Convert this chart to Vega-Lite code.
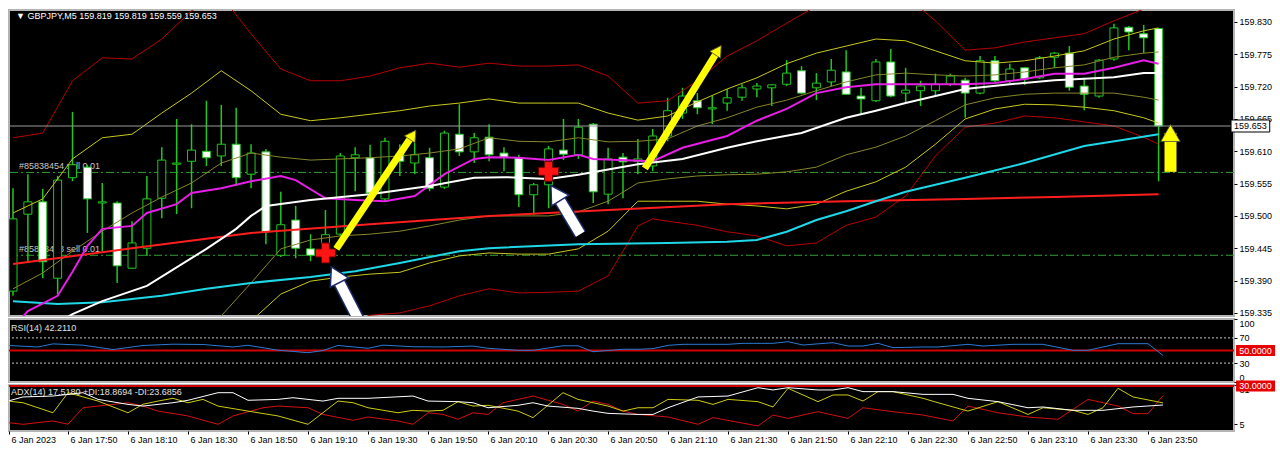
{
"$schema":"https://vega.github.io/schema/vega-lite/v6.json",
"background":"#ffffff",
"padding":{"left":7,"top":9,"right":0,"bottom":0},
"bounds":"flush",
"spacing":3,
"config":{"view":{"fill":"#000000","stroke":"#b4b4b4","strokeWidth":2},"text":{"font":"Liberation Sans"},"axis":{"labelFont":"Liberation Sans","labelOverlap":false}},
"datasets":{
"bars":[
{"i":0,"o":159.372,"h":159.547,"l":159.364,"c":159.495},
{"i":1,"o":159.503,"h":159.571,"l":159.423,"c":159.524},
{"i":2,"o":159.524,"h":159.546,"l":159.394,"c":159.422},
{"i":3,"o":159.394,"h":159.568,"l":159.367,"c":159.561},
{"i":4,"o":159.565,"h":159.677,"l":159.559,"c":159.587},
{"i":5,"o":159.583,"h":159.587,"l":159.471,"c":159.529},
{"i":6,"o":159.522,"h":159.556,"l":159.440,"c":159.524},
{"i":7,"o":159.522,"h":159.525,"l":159.386,"c":159.415},
{"i":8,"o":159.411,"h":159.491,"l":159.410,"c":159.454},
{"i":9,"o":159.445,"h":159.568,"l":159.432,"c":159.529},
{"i":10,"o":159.530,"h":159.617,"l":159.496,"c":159.595},
{"i":11,"o":159.588,"h":159.665,"l":159.503,"c":159.590},
{"i":12,"o":159.593,"h":159.656,"l":159.513,"c":159.612},
{"i":13,"o":159.610,"h":159.696,"l":159.585,"c":159.599},
{"i":14,"o":159.602,"h":159.689,"l":159.585,"c":159.622},
{"i":15,"o":159.622,"h":159.684,"l":159.551,"c":159.565},
{"i":16,"o":159.571,"h":159.622,"l":159.547,"c":159.607},
{"i":17,"o":159.609,"h":159.614,"l":159.452,"c":159.473},
{"i":18,"o":159.433,"h":159.541,"l":159.430,"c":159.485},
{"i":19,"o":159.493,"h":159.517,"l":159.428,"c":159.445},
{"i":20,"o":159.444,"h":159.469,"l":159.423,"c":159.433},
{"i":21,"o":159.452,"h":159.510,"l":159.444,"c":159.468},
{"i":22,"o":159.469,"h":159.607,"l":159.466,"c":159.602},
{"i":23,"o":159.599,"h":159.617,"l":159.542,"c":159.604},
{"i":24,"o":159.599,"h":159.621,"l":159.525,"c":159.539},
{"i":25,"o":159.529,"h":159.633,"l":159.525,"c":159.627},
{"i":26,"o":159.605,"h":159.622,"l":159.568,"c":159.593},
{"i":27,"o":159.590,"h":159.624,"l":159.571,"c":159.604},
{"i":28,"o":159.599,"h":159.616,"l":159.542,"c":159.547},
{"i":29,"o":159.549,"h":159.645,"l":159.546,"c":159.641},
{"i":30,"o":159.639,"h":159.690,"l":159.602,"c":159.609},
{"i":31,"o":159.609,"h":159.641,"l":159.590,"c":159.633},
{"i":32,"o":159.634,"h":159.656,"l":159.593,"c":159.604},
{"i":33,"o":159.607,"h":159.617,"l":159.576,"c":159.600},
{"i":34,"o":159.599,"h":159.604,"l":159.515,"c":159.536},
{"i":35,"o":159.536,"h":159.556,"l":159.502,"c":159.553},
{"i":36,"o":159.553,"h":159.619,"l":159.513,"c":159.614},
{"i":37,"o":159.612,"h":159.665,"l":159.595,"c":159.605},
{"i":38,"o":159.604,"h":159.665,"l":159.597,"c":159.651},
{"i":39,"o":159.656,"h":159.658,"l":159.522,"c":159.541},
{"i":40,"o":159.537,"h":159.616,"l":159.520,"c":159.597},
{"i":41,"o":159.600,"h":159.607,"l":159.530,"c":159.592},
{"i":42,"o":159.593,"h":159.631,"l":159.571,"c":159.597},
{"i":43,"o":159.585,"h":159.648,"l":159.576,"c":159.636},
{"i":44,"o":159.636,"h":159.701,"l":159.627,"c":159.679},
{"i":45,"o":159.675,"h":159.718,"l":159.665,"c":159.704},
{"i":46,"o":159.696,"h":159.709,"l":159.673,"c":159.684},
{"i":47,"o":159.682,"h":159.704,"l":159.656,"c":159.684},
{"i":48,"o":159.692,"h":159.716,"l":159.679,"c":159.701},
{"i":49,"o":159.702,"h":159.724,"l":159.696,"c":159.718},
{"i":50,"o":159.716,"h":159.726,"l":159.702,"c":159.721},
{"i":51,"o":159.718,"h":159.724,"l":159.687,"c":159.723},
{"i":52,"o":159.724,"h":159.765,"l":159.721,"c":159.743},
{"i":53,"o":159.747,"h":159.755,"l":159.707,"c":159.709},
{"i":54,"o":159.718,"h":159.743,"l":159.697,"c":159.726},
{"i":55,"o":159.728,"h":159.767,"l":159.721,"c":159.748},
{"i":56,"o":159.745,"h":159.782,"l":159.706,"c":159.707},
{"i":57,"o":159.704,"h":159.718,"l":159.673,"c":159.699},
{"i":58,"o":159.696,"h":159.767,"l":159.694,"c":159.762},
{"i":59,"o":159.762,"h":159.784,"l":159.702,"c":159.704},
{"i":60,"o":159.709,"h":159.752,"l":159.692,"c":159.714},
{"i":61,"o":159.713,"h":159.730,"l":159.687,"c":159.721},
{"i":62,"o":159.713,"h":159.742,"l":159.704,"c":159.724},
{"i":63,"o":159.724,"h":159.742,"l":159.721,"c":159.738},
{"i":64,"o":159.731,"h":159.735,"l":159.667,"c":159.709},
{"i":65,"o":159.709,"h":159.772,"l":159.707,"c":159.764},
{"i":66,"o":159.764,"h":159.772,"l":159.728,"c":159.730},
{"i":67,"o":159.730,"h":159.759,"l":159.726,"c":159.750},
{"i":68,"o":159.752,"h":159.753,"l":159.723,"c":159.733},
{"i":69,"o":159.735,"h":159.772,"l":159.733,"c":159.769},
{"i":70,"o":159.770,"h":159.779,"l":159.752,"c":159.777},
{"i":71,"o":159.777,"h":159.789,"l":159.713,"c":159.719},
{"i":72,"o":159.721,"h":159.735,"l":159.680,"c":159.707},
{"i":73,"o":159.704,"h":159.767,"l":159.701,"c":159.765},
{"i":74,"o":159.767,"h":159.827,"l":159.764,"c":159.820},
{"i":75,"o":159.821,"h":159.823,"l":159.782,"c":159.813},
{"i":76,"o":159.810,"h":159.825,"l":159.777,"c":159.803},
{"i":77,"o":159.819,"h":159.819,"l":159.559,"c":159.653}
],
"bands":[
{"s":"RU","i":0,"p":159.633},{"s":"RU","i":2,"p":159.641},{"s":"RU","i":4,"p":159.730},{"s":"RU","i":6,"p":159.769},{"s":"RU","i":8,"p":159.767},{"s":"RU","i":10,"p":159.801},{"s":"RU","i":12,"p":159.849},{"s":"RU","i":14,"p":159.874},{"s":"RU","i":16,"p":159.810},{"s":"RU","i":18,"p":159.750},{"s":"RU","i":20,"p":159.730},{"s":"RU","i":22,"p":159.730},{"s":"RU","i":24,"p":159.738},{"s":"RU","i":26,"p":159.752},{"s":"RU","i":28,"p":159.760},{"s":"RU","i":30,"p":159.753},{"s":"RU","i":32,"p":159.760},{"s":"RU","i":34,"p":159.755},{"s":"RU","i":36,"p":159.755},{"s":"RU","i":38,"p":159.757},{"s":"RU","i":40,"p":159.738},{"s":"RU","i":42,"p":159.692},{"s":"RU","i":44,"p":159.696},{"s":"RU","i":46,"p":159.730},{"s":"RU","i":48,"p":159.772},{"s":"RU","i":50,"p":159.798},{"s":"RU","i":52,"p":159.828},{"s":"RU","i":54,"p":159.857},{"s":"RU","i":56,"p":159.874},{"s":"RU","i":58,"p":159.879},{"s":"RU","i":60,"p":159.874},{"s":"RU","i":62,"p":159.832},{"s":"RU","i":64,"p":159.782},{"s":"RU","i":66,"p":159.786},{"s":"RU","i":68,"p":159.796},{"s":"RU","i":70,"p":159.803},{"s":"RU","i":72,"p":159.810},{"s":"RU","i":74,"p":159.832},{"s":"RU","i":76,"p":159.852},{"s":"RU","i":77,"p":159.861},
{"s":"YU","i":0,"p":159.505},{"s":"YU","i":2,"p":159.529},{"s":"YU","i":4,"p":159.597},{"s":"YU","i":6,"p":159.633},{"s":"YU","i":8,"p":159.639},{"s":"YU","i":10,"p":159.675},{"s":"YU","i":12,"p":159.709},{"s":"YU","i":14,"p":159.747},{"s":"YU","i":16,"p":159.713},{"s":"YU","i":18,"p":159.673},{"s":"YU","i":20,"p":159.662},{"s":"YU","i":22,"p":159.667},{"s":"YU","i":24,"p":159.673},{"s":"YU","i":26,"p":159.679},{"s":"YU","i":28,"p":159.687},{"s":"YU","i":30,"p":159.692},{"s":"YU","i":32,"p":159.699},{"s":"YU","i":34,"p":159.692},{"s":"YU","i":36,"p":159.692},{"s":"YU","i":38,"p":159.692},{"s":"YU","i":40,"p":159.675},{"s":"YU","i":42,"p":159.663},{"s":"YU","i":44,"p":159.670},{"s":"YU","i":46,"p":159.694},{"s":"YU","i":48,"p":159.716},{"s":"YU","i":50,"p":159.735},{"s":"YU","i":52,"p":159.759},{"s":"YU","i":54,"p":159.777},{"s":"YU","i":56,"p":159.789},{"s":"YU","i":58,"p":159.801},{"s":"YU","i":60,"p":159.798},{"s":"YU","i":62,"p":159.781},{"s":"YU","i":64,"p":159.764},{"s":"YU","i":66,"p":159.760},{"s":"YU","i":68,"p":159.764},{"s":"YU","i":70,"p":159.772},{"s":"YU","i":72,"p":159.781},{"s":"YU","i":74,"p":159.801},{"s":"YU","i":76,"p":159.815},{"s":"YU","i":77,"p":159.820},
{"s":"OU","i":0,"p":159.376},{"s":"OU","i":2,"p":159.403},{"s":"OU","i":4,"p":159.440},{"s":"OU","i":6,"p":159.474},{"s":"OU","i":8,"p":159.505},{"s":"OU","i":10,"p":159.532},{"s":"OU","i":12,"p":159.556},{"s":"OU","i":14,"p":159.590},{"s":"OU","i":16,"p":159.607},{"s":"OU","i":18,"p":159.600},{"s":"OU","i":20,"p":159.595},{"s":"OU","i":22,"p":159.597},{"s":"OU","i":24,"p":159.599},{"s":"OU","i":26,"p":159.602},{"s":"OU","i":28,"p":159.607},{"s":"OU","i":30,"p":159.614},{"s":"OU","i":32,"p":159.633},{"s":"OU","i":34,"p":159.627},{"s":"OU","i":36,"p":159.626},{"s":"OU","i":38,"p":159.633},{"s":"OU","i":40,"p":159.626},{"s":"OU","i":42,"p":159.627},{"s":"OU","i":44,"p":159.631},{"s":"OU","i":46,"p":159.653},{"s":"OU","i":48,"p":159.667},{"s":"OU","i":50,"p":159.685},{"s":"OU","i":52,"p":159.697},{"s":"OU","i":54,"p":159.713},{"s":"OU","i":56,"p":159.728},{"s":"OU","i":58,"p":159.740},{"s":"OU","i":60,"p":159.743},{"s":"OU","i":62,"p":159.740},{"s":"OU","i":64,"p":159.738},{"s":"OU","i":66,"p":159.740},{"s":"OU","i":68,"p":159.745},{"s":"OU","i":70,"p":159.752},{"s":"OU","i":72,"p":159.757},{"s":"OU","i":74,"p":159.770},{"s":"OU","i":76,"p":159.777},{"s":"OU","i":77,"p":159.779},
{"s":"OL","i":10,"p":159.230},{"s":"OL","i":12,"p":159.279},{"s":"OL","i":14,"p":159.330},{"s":"OL","i":16,"p":159.386},{"s":"OL","i":18,"p":159.444},{"s":"OL","i":20,"p":159.459},{"s":"OL","i":22,"p":159.466},{"s":"OL","i":24,"p":159.469},{"s":"OL","i":26,"p":159.474},{"s":"OL","i":28,"p":159.483},{"s":"OL","i":30,"p":159.493},{"s":"OL","i":32,"p":159.500},{"s":"OL","i":34,"p":159.500},{"s":"OL","i":36,"p":159.500},{"s":"OL","i":38,"p":159.507},{"s":"OL","i":40,"p":159.525},{"s":"OL","i":42,"p":159.556},{"s":"OL","i":44,"p":159.563},{"s":"OL","i":46,"p":159.568},{"s":"OL","i":48,"p":159.570},{"s":"OL","i":50,"p":159.571},{"s":"OL","i":52,"p":159.575},{"s":"OL","i":54,"p":159.583},{"s":"OL","i":56,"p":159.604},{"s":"OL","i":58,"p":159.617},{"s":"OL","i":60,"p":159.636},{"s":"OL","i":62,"p":159.662},{"s":"OL","i":64,"p":159.689},{"s":"OL","i":66,"p":159.701},{"s":"OL","i":68,"p":159.707},{"s":"OL","i":70,"p":159.709},{"s":"OL","i":72,"p":159.709},{"s":"OL","i":74,"p":159.709},{"s":"OL","i":76,"p":159.702},{"s":"OL","i":77,"p":159.697},
{"s":"YL","i":10,"p":159.219},{"s":"YL","i":12,"p":159.253},{"s":"YL","i":14,"p":159.287},{"s":"YL","i":16,"p":159.321},{"s":"YL","i":18,"p":159.367},{"s":"YL","i":20,"p":159.389},{"s":"YL","i":22,"p":159.396},{"s":"YL","i":24,"p":159.401},{"s":"YL","i":26,"p":159.404},{"s":"YL","i":28,"p":159.420},{"s":"YL","i":30,"p":159.432},{"s":"YL","i":32,"p":159.437},{"s":"YL","i":34,"p":159.435},{"s":"YL","i":36,"p":159.435},{"s":"YL","i":38,"p":159.444},{"s":"YL","i":40,"p":159.474},{"s":"YL","i":42,"p":159.525},{"s":"YL","i":44,"p":159.525},{"s":"YL","i":46,"p":159.525},{"s":"YL","i":48,"p":159.520},{"s":"YL","i":50,"p":159.517},{"s":"YL","i":52,"p":159.512},{"s":"YL","i":54,"p":159.520},{"s":"YL","i":56,"p":159.542},{"s":"YL","i":58,"p":159.558},{"s":"YL","i":60,"p":159.583},{"s":"YL","i":62,"p":159.622},{"s":"YL","i":64,"p":159.665},{"s":"YL","i":66,"p":159.682},{"s":"YL","i":68,"p":159.690},{"s":"YL","i":70,"p":159.689},{"s":"YL","i":72,"p":159.685},{"s":"YL","i":74,"p":159.679},{"s":"YL","i":76,"p":159.667},{"s":"YL","i":77,"p":159.658},
{"s":"RL","i":16,"p":159.253},{"s":"RL","i":20,"p":159.304},{"s":"RL","i":22,"p":159.313},{"s":"RL","i":24,"p":159.331},{"s":"RL","i":26,"p":159.335},{"s":"RL","i":28,"p":159.347},{"s":"RL","i":30,"p":159.364},{"s":"RL","i":32,"p":159.376},{"s":"RL","i":34,"p":159.369},{"s":"RL","i":36,"p":159.370},{"s":"RL","i":38,"p":159.372},{"s":"RL","i":40,"p":159.398},{"s":"RL","i":41,"p":159.440},{"s":"RL","i":42,"p":159.483},{"s":"RL","i":43,"p":159.495},{"s":"RL","i":44,"p":159.491},{"s":"RL","i":46,"p":159.484},{"s":"RL","i":48,"p":159.473},{"s":"RL","i":50,"p":159.466},{"s":"RL","i":52,"p":159.449},{"s":"RL","i":54,"p":159.454},{"s":"RL","i":56,"p":159.484},{"s":"RL","i":58,"p":159.498},{"s":"RL","i":60,"p":159.534},{"s":"RL","i":62,"p":159.602},{"s":"RL","i":64,"p":159.651},{"s":"RL","i":66,"p":159.658},{"s":"RL","i":68,"p":159.670},{"s":"RL","i":70,"p":159.667},{"s":"RL","i":72,"p":159.660},{"s":"RL","i":74,"p":159.653},{"s":"RL","i":76,"p":159.634},{"s":"RL","i":77,"p":159.622}
],
"ma":[
{"s":"slow","i":0,"p":159.418},{"s":"slow","i":8,"p":159.445},{"s":"slow","i":16,"p":159.471},{"s":"slow","i":24,"p":159.486},{"s":"slow","i":32,"p":159.500},{"s":"slow","i":40,"p":159.510},{"s":"slow","i":48,"p":159.520},{"s":"slow","i":56,"p":159.525},{"s":"slow","i":64,"p":159.529},{"s":"slow","i":70,"p":159.532},{"s":"slow","i":77,"p":159.537},
{"s":"cyan","i":0,"p":159.355},{"s":"cyan","i":3,"p":159.350},{"s":"cyan","i":6,"p":159.353},{"s":"cyan","i":10,"p":159.364},{"s":"cyan","i":13,"p":159.376},{"s":"cyan","i":16,"p":159.386},{"s":"cyan","i":20,"p":159.396},{"s":"cyan","i":23,"p":159.406},{"s":"cyan","i":26,"p":159.420},{"s":"cyan","i":30,"p":159.440},{"s":"cyan","i":32,"p":159.445},{"s":"cyan","i":38,"p":159.452},{"s":"cyan","i":44,"p":159.454},{"s":"cyan","i":48,"p":159.456},{"s":"cyan","i":50,"p":159.459},{"s":"cyan","i":52,"p":159.473},{"s":"cyan","i":54,"p":159.493},{"s":"cyan","i":56,"p":159.508},{"s":"cyan","i":58,"p":159.525},{"s":"cyan","i":60,"p":159.541},{"s":"cyan","i":64,"p":159.565},{"s":"cyan","i":68,"p":159.590},{"s":"cyan","i":72,"p":159.619},{"s":"cyan","i":75,"p":159.631},{"s":"cyan","i":77,"p":159.639},
{"s":"mag","i":0,"p":159.310},{"s":"mag","i":1,"p":159.338},{"s":"mag","i":3,"p":159.364},{"s":"mag","i":4,"p":159.405},{"s":"mag","i":5,"p":159.449},{"s":"mag","i":6,"p":159.478},{"s":"mag","i":8,"p":159.483},{"s":"mag","i":9,"p":159.505},{"s":"mag","i":11,"p":159.520},{"s":"mag","i":12,"p":159.539},{"s":"mag","i":14,"p":159.547},{"s":"mag","i":16,"p":159.559},{"s":"mag","i":18,"p":159.568},{"s":"mag","i":19,"p":159.561},{"s":"mag","i":21,"p":159.530},{"s":"mag","i":23,"p":159.527},{"s":"mag","i":25,"p":159.525},{"s":"mag","i":27,"p":159.534},{"s":"mag","i":29,"p":159.571},{"s":"mag","i":31,"p":159.597},{"s":"mag","i":32,"p":159.600},{"s":"mag","i":34,"p":159.599},{"s":"mag","i":36,"p":159.595},{"s":"mag","i":38,"p":159.604},{"s":"mag","i":39,"p":159.597},{"s":"mag","i":43,"p":159.593},{"s":"mag","i":45,"p":159.616},{"s":"mag","i":48,"p":159.636},{"s":"mag","i":50,"p":159.662},{"s":"mag","i":52,"p":159.682},{"s":"mag","i":54,"p":159.709},{"s":"mag","i":56,"p":159.719},{"s":"mag","i":58,"p":159.724},{"s":"mag","i":64,"p":159.724},{"s":"mag","i":66,"p":159.726},{"s":"mag","i":68,"p":159.733},{"s":"mag","i":70,"p":159.742},{"s":"mag","i":72,"p":159.742},{"s":"mag","i":74,"p":159.752},{"s":"mag","i":76,"p":159.765},{"s":"mag","i":77,"p":159.759},
{"s":"white","i":3,"p":159.318},{"s":"white","i":4,"p":159.333},{"s":"white","i":6,"p":159.355},{"s":"white","i":9,"p":159.381},{"s":"white","i":13,"p":159.444},{"s":"white","i":15,"p":159.478},{"s":"white","i":16,"p":159.500},{"s":"white","i":17,"p":159.517},{"s":"white","i":20,"p":159.527},{"s":"white","i":24,"p":159.537},{"s":"white","i":28,"p":159.551},{"s":"white","i":31,"p":159.565},{"s":"white","i":33,"p":159.566},{"s":"white","i":36,"p":159.563},{"s":"white","i":38,"p":159.570},{"s":"white","i":42,"p":159.588},{"s":"white","i":45,"p":159.597},{"s":"white","i":48,"p":159.616},{"s":"white","i":50,"p":159.627},{"s":"white","i":53,"p":159.641},{"s":"white","i":56,"p":159.667},{"s":"white","i":58,"p":159.679},{"s":"white","i":60,"p":159.692},{"s":"white","i":64,"p":159.716},{"s":"white","i":67,"p":159.724},{"s":"white","i":70,"p":159.731},{"s":"white","i":74,"p":159.736},{"s":"white","i":76,"p":159.743},{"s":"white","i":77,"p":159.743}
],
"orders":[{"p":159.574,"label":"#85838454 sell 0.01"},{"p":159.433,"label":"#85838418 sell 0.01"}],
"quote":[{"p":159.653,"label":"159.653"}],
"entries":[{"i":21,"p":159.437},{"i":36,"p":159.576}],
"trend_arrows":[{"i":21.73,"p":159.444,"i2":26.87,"p2":159.638,"angle":34},{"i":42.47,"p":159.581,"i2":47.4,"p2":159.782,"angle":33}],
"up_arrow":[{"i":77.8,"p":159.575,"i2":77.8,"p2":159.641,"angle":0}],
"pointer_arrows":[{"i":23.27,"p":159.321,"i2":21.67,"p2":159.400,"angle":-27},{"i":38.13,"p":159.469,"i2":36.47,"p2":159.539,"angle":-32}],
"rsi":[{"i":0,"v":58},{"i":2,"v":55.6},{"i":3,"v":60.5},{"i":5,"v":58.5},{"i":7,"v":51.5},{"i":9,"v":58},{"i":11,"v":60},{"i":13,"v":59.5},{"i":15,"v":55.6},{"i":16,"v":58.3},{"i":18,"v":50.5},{"i":20,"v":46.5},{"i":21,"v":50},{"i":22,"v":58},{"i":24,"v":53.5},{"i":25,"v":58.5},{"i":27,"v":56},{"i":29,"v":55.6},{"i":31,"v":57},{"i":32,"v":53.5},{"i":34,"v":50.3},{"i":35,"v":50.3},{"i":37,"v":57.5},{"i":38,"v":57.5},{"i":39,"v":48},{"i":41,"v":52},{"i":42,"v":51.9},{"i":43,"v":53},{"i":44,"v":58.2},{"i":45,"v":59.8},{"i":48,"v":59.8},{"i":49,"v":61.4},{"i":51,"v":61.4},{"i":52,"v":64},{"i":53,"v":58.7},{"i":55,"v":62.4},{"i":56,"v":57.1},{"i":57,"v":57.1},{"i":58,"v":61.4},{"i":59,"v":54.5},{"i":61,"v":55.6},{"i":62,"v":55.6},{"i":64,"v":59.8},{"i":65,"v":57.1},{"i":67,"v":59.8},{"i":69,"v":59.8},{"i":71,"v":50.3},{"i":72,"v":50.3},{"i":73,"v":55.6},{"i":74,"v":60.8},{"i":76,"v":60.8},{"i":77,"v":42.2}],
"rsi_levels":[{"v":70},{"v":30}],
"rsi_mid":[{"v":50,"label":"50.0000"}],
"adx_level":[{"v":30,"label":"30.0000"}],
"adx":[
{"s":"mdi","i":0,"v":5.9},{"s":"mdi","i":1,"v":4.8},{"s":"mdi","i":3,"v":7.0},{"s":"mdi","i":4,"v":4.8},{"s":"mdi","i":5,"v":15.7},{"s":"mdi","i":6,"v":16.8},{"s":"mdi","i":8,"v":19.0},{"s":"mdi","i":9,"v":16.8},{"s":"mdi","i":10,"v":13.5},{"s":"mdi","i":12,"v":10.3},{"s":"mdi","i":14,"v":4.8},{"s":"mdi","i":15,"v":10.3},{"s":"mdi","i":17,"v":15.7},{"s":"mdi","i":18,"v":16.8},{"s":"mdi","i":20,"v":15.7},{"s":"mdi","i":21,"v":11.3},{"s":"mdi","i":23,"v":7.4},{"s":"mdi","i":24,"v":9.6},{"s":"mdi","i":26,"v":7.0},{"s":"mdi","i":27,"v":4.8},{"s":"mdi","i":28,"v":12.4},{"s":"mdi","i":29,"v":11.3},{"s":"mdi","i":30,"v":8.1},{"s":"mdi","i":31,"v":12.4},{"s":"mdi","i":32,"v":11.3},{"s":"mdi","i":33,"v":19.0},{"s":"mdi","i":35,"v":23.4},{"s":"mdi","i":37,"v":17.9},{"s":"mdi","i":38,"v":13.5},{"s":"mdi","i":39,"v":20.1},{"s":"mdi","i":40,"v":17.9},{"s":"mdi","i":41,"v":13.5},{"s":"mdi","i":42,"v":11.3},{"s":"mdi","i":44,"v":9.6},{"s":"mdi","i":46,"v":4.8},{"s":"mdi","i":47,"v":9.2},{"s":"mdi","i":50,"v":3.7},{"s":"mdi","i":51,"v":10.9},{"s":"mdi","i":52,"v":8.7},{"s":"mdi","i":54,"v":13.1},{"s":"mdi","i":56,"v":8.7},{"s":"mdi","i":57,"v":15.7},{"s":"mdi","i":59,"v":13.1},{"s":"mdi","i":61,"v":10.9},{"s":"mdi","i":63,"v":7.0},{"s":"mdi","i":64,"v":16.8},{"s":"mdi","i":66,"v":12.4},{"s":"mdi","i":68,"v":9.6},{"s":"mdi","i":70,"v":8.1},{"s":"mdi","i":72,"v":21.2},{"s":"mdi","i":74,"v":16.8},{"s":"mdi","i":75,"v":11.8},{"s":"mdi","i":76,"v":11.8},{"s":"mdi","i":77,"v":23.7},
{"s":"pdi","i":0,"v":20.1},{"s":"pdi","i":1,"v":19.0},{"s":"pdi","i":3,"v":12.4},{"s":"pdi","i":4,"v":25.6},{"s":"pdi","i":6,"v":20.1},{"s":"pdi","i":8,"v":12.4},{"s":"pdi","i":9,"v":18.0},{"s":"pdi","i":10,"v":20.1},{"s":"pdi","i":11,"v":21.9},{"s":"pdi","i":12,"v":19.0},{"s":"pdi","i":13,"v":21.2},{"s":"pdi","i":14,"v":16.8},{"s":"pdi","i":16,"v":13.5},{"s":"pdi","i":18,"v":10.3},{"s":"pdi","i":20,"v":4.8},{"s":"pdi","i":22,"v":20.1},{"s":"pdi","i":23,"v":19.0},{"s":"pdi","i":24,"v":15.7},{"s":"pdi","i":26,"v":12.4},{"s":"pdi","i":27,"v":14.0},{"s":"pdi","i":28,"v":13.5},{"s":"pdi","i":29,"v":14.0},{"s":"pdi","i":30,"v":19.7},{"s":"pdi","i":31,"v":16.8},{"s":"pdi","i":32,"v":17.3},{"s":"pdi","i":34,"v":13.5},{"s":"pdi","i":35,"v":9.2},{"s":"pdi","i":37,"v":25.6},{"s":"pdi","i":38,"v":21.2},{"s":"pdi","i":40,"v":16.8},{"s":"pdi","i":41,"v":13.5},{"s":"pdi","i":42,"v":15.7},{"s":"pdi","i":43,"v":15.7},{"s":"pdi","i":44,"v":21.2},{"s":"pdi","i":46,"v":20.6},{"s":"pdi","i":47,"v":17.9},{"s":"pdi","i":48,"v":21.2},{"s":"pdi","i":50,"v":19.7},{"s":"pdi","i":51,"v":16.2},{"s":"pdi","i":52,"v":28.5},{"s":"pdi","i":54,"v":19.7},{"s":"pdi","i":55,"v":24.1},{"s":"pdi","i":56,"v":24.1},{"s":"pdi","i":57,"v":20.1},{"s":"pdi","i":58,"v":26.3},{"s":"pdi","i":59,"v":26.3},{"s":"pdi","i":61,"v":21.9},{"s":"pdi","i":62,"v":19.0},{"s":"pdi","i":64,"v":13.5},{"s":"pdi","i":66,"v":19.7},{"s":"pdi","i":68,"v":11.3},{"s":"pdi","i":69,"v":15.7},{"s":"pdi","i":71,"v":14.0},{"s":"pdi","i":72,"v":11.3},{"s":"pdi","i":73,"v":15.7},{"s":"pdi","i":74,"v":28.5},{"s":"pdi","i":75,"v":22.8},{"s":"pdi","i":77,"v":18.9},
{"s":"adx","i":0,"v":20.1},{"s":"adx","i":1,"v":22.8},{"s":"adx","i":3,"v":23.4},{"s":"adx","i":5,"v":25.6},{"s":"adx","i":6,"v":21.2},{"s":"adx","i":8,"v":17.9},{"s":"adx","i":9,"v":16.8},{"s":"adx","i":11,"v":19.0},{"s":"adx","i":12,"v":20.6},{"s":"adx","i":14,"v":25.6},{"s":"adx","i":15,"v":25.6},{"s":"adx","i":16,"v":20.6},{"s":"adx","i":18,"v":21.2},{"s":"adx","i":19,"v":22.3},{"s":"adx","i":21,"v":20.1},{"s":"adx","i":22,"v":21.9},{"s":"adx","i":24,"v":21.9},{"s":"adx","i":27,"v":23.4},{"s":"adx","i":28,"v":20.1},{"s":"adx","i":30,"v":19.7},{"s":"adx","i":31,"v":19.0},{"s":"adx","i":32,"v":15.7},{"s":"adx","i":34,"v":17.3},{"s":"adx","i":35,"v":19.0},{"s":"adx","i":36,"v":16.8},{"s":"adx","i":38,"v":15.3},{"s":"adx","i":39,"v":13.5},{"s":"adx","i":40,"v":12.0},{"s":"adx","i":42,"v":11.3},{"s":"adx","i":43,"v":11.3},{"s":"adx","i":44,"v":15.7},{"s":"adx","i":46,"v":22.8},{"s":"adx","i":48,"v":23.4},{"s":"adx","i":50,"v":28.9},{"s":"adx","i":51,"v":27.4},{"s":"adx","i":52,"v":28.9},{"s":"adx","i":54,"v":27.4},{"s":"adx","i":55,"v":27.4},{"s":"adx","i":56,"v":28.9},{"s":"adx","i":57,"v":26.3},{"s":"adx","i":59,"v":26.3},{"s":"adx","i":61,"v":24.5},{"s":"adx","i":63,"v":24.5},{"s":"adx","i":64,"v":21.9},{"s":"adx","i":66,"v":19.7},{"s":"adx","i":68,"v":15.7},{"s":"adx","i":69,"v":16.2},{"s":"adx","i":71,"v":14.0},{"s":"adx","i":73,"v":14.0},{"s":"adx","i":75,"v":16.2},{"s":"adx","i":77,"v":17.5}
]
},
"vconcat":[
{
"width":1225,"height":306,
"resolve":{"scale":{"color":"independent"}},
"layer":[
{"data":{"name":"orders"},"mark":{"type":"rule","color":"#2ea02e","strokeDash":[8,3,2,3],"strokeWidth":1},
 "encoding":{"y":{"field":"p","type":"quantitative","scale":{"domain":[159.3297,159.8504],"nice":false,"zero":false},
  "axis":{"orient":"right","values":[159.335,159.39,159.445,159.5,159.555,159.61,159.665,159.72,159.775,159.83],"tickCount":30,"format":".3f","tickSize":3,"labelPadding":2,"labelFontSize":9,"labelColor":"#000000","tickColor":"#000000","domain":false,"grid":false,"title":null,"labelFlush":false,"labelOverlap":false}}}},
{"data":{"name":"orders"},"mark":{"type":"text","align":"left","baseline":"bottom","dy":-1,"fontSize":9,"color":"#c8c8c8","clip":true},
 "encoding":{"x":{"datum":0.4,"type":"quantitative","scale":{"domain":[0.0667,81.733],"nice":false,"zero":false},"axis":null},
  "y":{"field":"p","type":"quantitative","scale":{"domain":[159.3297,159.8504],"nice":false,"zero":false}},
  "text":{"field":"label"}}},
{"data":{"name":"bars"},"mark":{"type":"rule","color":"#1fc81f","strokeWidth":1.5,"clip":true},
 "encoding":{"x":{"field":"i","type":"quantitative","scale":{"domain":[0.0667,81.733],"nice":false,"zero":false},"axis":null},
  "y":{"field":"l","type":"quantitative","scale":{"domain":[159.3297,159.8504],"nice":false,"zero":false}},
  "y2":{"field":"h"}}},
{"data":{"name":"bars"},"mark":{"type":"bar","size":8,"stroke":"#1fc81f","strokeWidth":1,"clip":true},
 "encoding":{"x":{"field":"i","type":"quantitative","scale":{"domain":[0.0667,81.733],"nice":false,"zero":false},"axis":null},
  "y":{"field":"o","type":"quantitative","scale":{"domain":[159.3297,159.8504],"nice":false,"zero":false}},
  "y2":{"field":"c"},
  "fill":{"condition":{"test":"datum.c < datum.o","value":"#ffffff"},"value":"#000000"}}},
{"data":{"name":"bands"},"mark":{"type":"line","strokeWidth":1,"clip":true},
 "encoding":{"x":{"field":"i","type":"quantitative","scale":{"domain":[0.0667,81.733],"nice":false,"zero":false},"axis":null},
  "y":{"field":"p","type":"quantitative","scale":{"domain":[159.3297,159.8504],"nice":false,"zero":false}},
  "color":{"field":"s","type":"nominal","scale":{"domain":["RU","RL","YU","YL","OU","OL"],"range":["#b80000","#b80000","#c8c81e","#c8c81e","#86862a","#86862a"]},"legend":null}}},
{"data":{"name":"quote"},"mark":{"type":"rule","color":"#9a9a9a","strokeWidth":1},
 "encoding":{"y":{"field":"p","type":"quantitative","scale":{"domain":[159.3297,159.8504],"nice":false,"zero":false}}}},
{"data":{"name":"ma"},"mark":{"type":"line","strokeWidth":2,"clip":true},
 "encoding":{"x":{"field":"i","type":"quantitative","scale":{"domain":[0.0667,81.733],"nice":false,"zero":false},"axis":null},
  "y":{"field":"p","type":"quantitative","scale":{"domain":[159.3297,159.8504],"nice":false,"zero":false}},
  "color":{"field":"s","type":"nominal","scale":{"domain":["slow","cyan","mag","white"],"range":["#ff1e1e","#1ed8e8","#e61ee6","#ffffff"]},"legend":null}}},
{"data":{"name":"entries"},"mark":{"type":"point","shape":"cross","size":400,"filled":true,"fill":"#ff1414","stroke":"#6a0000","strokeWidth":1,"opacity":1,"clip":true},
 "encoding":{"x":{"field":"i","type":"quantitative","scale":{"domain":[0.0667,81.733],"nice":false,"zero":false},"axis":null},
  "y":{"field":"p","type":"quantitative","scale":{"domain":[159.3297,159.8504],"nice":false,"zero":false}}}},
{"data":{"name":"trend_arrows"},"mark":{"type":"rule","color":"#ffff00","strokeWidth":7,"strokeCap":"butt","clip":true},
 "encoding":{"x":{"field":"i","type":"quantitative","scale":{"domain":[0.0667,81.733],"nice":false,"zero":false},"axis":null},
  "y":{"field":"p","type":"quantitative","scale":{"domain":[159.3297,159.8504],"nice":false,"zero":false}},
  "x2":{"field":"i2"},"y2":{"field":"p2"}}},
{"data":{"name":"trend_arrows"},"mark":{"type":"point","shape":"triangle-up","size":160,"filled":true,"fill":"#ffff00","stroke":"#5a5a3a","strokeWidth":0.8,"opacity":1,"clip":true},
 "encoding":{"x":{"field":"i2","type":"quantitative","scale":{"domain":[0.0667,81.733],"nice":false,"zero":false},"axis":null},
  "y":{"field":"p2","type":"quantitative","scale":{"domain":[159.3297,159.8504],"nice":false,"zero":false}},
  "angle":{"field":"angle","type":"quantitative","scale":null}}},
{"data":{"name":"up_arrow"},"mark":{"type":"rule","color":"#ffff00","strokeWidth":12,"strokeCap":"butt","clip":true},
 "encoding":{"x":{"field":"i","type":"quantitative","scale":{"domain":[0.0667,81.733],"nice":false,"zero":false},"axis":null},
  "y":{"field":"p","type":"quantitative","scale":{"domain":[159.3297,159.8504],"nice":false,"zero":false}},
  "x2":{"field":"i2"},"y2":{"field":"p2"}}},
{"data":{"name":"up_arrow"},"mark":{"type":"point","shape":"triangle-up","size":380,"filled":true,"fill":"#ffff00","stroke":"#4a4a4a","strokeWidth":0.8,"opacity":1,"clip":true},
 "encoding":{"x":{"field":"i2","type":"quantitative","scale":{"domain":[0.0667,81.733],"nice":false,"zero":false},"axis":null},
  "y":{"field":"p2","type":"quantitative","scale":{"domain":[159.3297,159.8504],"nice":false,"zero":false}},
  "angle":{"field":"angle","type":"quantitative","scale":null}}},
{"data":{"name":"pointer_arrows"},"mark":{"type":"rule","color":"#1c2a66","strokeWidth":13,"strokeCap":"butt","clip":true},
 "encoding":{"x":{"field":"i","type":"quantitative","scale":{"domain":[0.0667,81.733],"nice":false,"zero":false},"axis":null},
  "y":{"field":"p","type":"quantitative","scale":{"domain":[159.3297,159.8504],"nice":false,"zero":false}},
  "x2":{"field":"i2"},"y2":{"field":"p2"}}},
{"data":{"name":"pointer_arrows"},"mark":{"type":"rule","color":"#ffffff","strokeWidth":10,"strokeCap":"butt","clip":true},
 "encoding":{"x":{"field":"i","type":"quantitative","scale":{"domain":[0.0667,81.733],"nice":false,"zero":false},"axis":null},
  "y":{"field":"p","type":"quantitative","scale":{"domain":[159.3297,159.8504],"nice":false,"zero":false}},
  "x2":{"field":"i2"},"y2":{"field":"p2"}}},
{"data":{"name":"pointer_arrows"},"mark":{"type":"point","shape":"triangle-up","size":420,"filled":true,"fill":"#ffffff","stroke":"#1c2a66","strokeWidth":1.5,"opacity":1,"clip":true},
 "encoding":{"x":{"field":"i2","type":"quantitative","scale":{"domain":[0.0667,81.733],"nice":false,"zero":false},"axis":null},
  "y":{"field":"p2","type":"quantitative","scale":{"domain":[159.3297,159.8504],"nice":false,"zero":false}},
  "angle":{"field":"angle","type":"quantitative","scale":null}}},
{"data":{"name":"quote"},"mark":{"type":"text","text":"▼ GBPJPY,M5  159.819 159.819 159.559 159.653","align":"left","baseline":"middle","fontSize":9,"color":"#ffffff"},
 "encoding":{"x":{"datum":0.2,"type":"quantitative","scale":{"domain":[0.0667,81.733],"nice":false,"zero":false},"axis":null},
  "y":{"datum":159.840,"type":"quantitative","scale":{"domain":[159.3297,159.8504],"nice":false,"zero":false}}}},
{"data":{"name":"quote"},"mark":{"type":"rect","fill":"#ffffff","stroke":"#000000","strokeWidth":1,"clip":false},
 "encoding":{"x":{"datum":81.87,"type":"quantitative","scale":{"domain":[0.0667,81.733],"nice":false,"zero":false},"axis":null},
  "x2":{"datum":84.47},
  "y":{"datum":159.6632,"type":"quantitative","scale":{"domain":[159.3297,159.8504],"nice":false,"zero":false}},
  "y2":{"datum":159.6428}}},
{"data":{"name":"quote"},"mark":{"type":"text","align":"center","baseline":"middle","fontSize":9,"color":"#000000","clip":false},
 "encoding":{"x":{"datum":83.17,"type":"quantitative","scale":{"domain":[0.0667,81.733],"nice":false,"zero":false},"axis":null},
  "y":{"field":"p","type":"quantitative","scale":{"domain":[159.3297,159.8504],"nice":false,"zero":false}},
  "text":{"field":"label"}}}
]
},
{
"width":1225,"height":63,
"layer":[
{"data":{"name":"rsi_levels"},"mark":{"type":"rule","color":"#c8c8c8","strokeDash":[2,2],"strokeWidth":1},
 "encoding":{"y":{"field":"v","type":"quantitative","scale":{"domain":[0,100],"nice":false,"zero":false},
  "axis":{"orient":"right","values":[0,30,70,100],"tickCount":20,"tickSize":3,"labelPadding":2,"labelFontSize":9,"labelColor":"#000000","tickColor":"#000000","domain":false,"grid":false,"title":null,"labelFlush":true,"labelOverlap":false}}}},
{"data":{"name":"rsi_mid"},"mark":{"type":"rule","color":"#d00000","strokeWidth":2},
 "encoding":{"y":{"field":"v","type":"quantitative","scale":{"domain":[0,100],"nice":false,"zero":false}}}},
{"data":{"name":"rsi"},"mark":{"type":"line","color":"#2a7ad4","strokeWidth":1,"clip":true},
 "encoding":{"x":{"field":"i","type":"quantitative","scale":{"domain":[0.0667,81.733],"nice":false,"zero":false},"axis":null},
  "y":{"field":"v","type":"quantitative","scale":{"domain":[0,100],"nice":false,"zero":false}}}},
{"data":{"name":"rsi_mid"},"mark":{"type":"text","text":"RSI(14) 42.2110","align":"left","baseline":"middle","fontSize":9,"color":"#e0e0e0"},
 "encoding":{"x":{"datum":0.2,"type":"quantitative","scale":{"domain":[0.0667,81.733],"nice":false,"zero":false},"axis":null},
  "y":{"datum":85.7,"type":"quantitative","scale":{"domain":[0,100],"nice":false,"zero":false}}}},
{"data":{"name":"rsi_mid"},"mark":{"type":"rect","fill":"#e80000","clip":false},
 "encoding":{"x":{"datum":81.87,"type":"quantitative","scale":{"domain":[0.0667,81.733],"nice":false,"zero":false},"axis":null},
  "x2":{"datum":84.47},
  "y":{"datum":58.7,"type":"quantitative","scale":{"domain":[0,100],"nice":false,"zero":false}},
  "y2":{"datum":41.3}}},
{"data":{"name":"rsi_mid"},"mark":{"type":"text","align":"center","baseline":"middle","fontSize":9,"color":"#ffffff","clip":false},
 "encoding":{"x":{"datum":83.17,"type":"quantitative","scale":{"domain":[0.0667,81.733],"nice":false,"zero":false},"axis":null},
  "y":{"field":"v","type":"quantitative","scale":{"domain":[0,100],"nice":false,"zero":false}},
  "text":{"field":"label"}}}
]
},
{
"width":1225,"height":46,
"layer":[
{"data":{"name":"adx_level"},"mark":{"type":"text","text":"ADX(14) 17.5180 +DI:18.8694 -DI:23.6856","align":"left","baseline":"middle","fontSize":9,"color":"#e0e0e0"},
 "encoding":{"x":{"datum":0.2,"type":"quantitative","scale":{"domain":[0.0667,81.733],"nice":false,"zero":false}},
  "y":{"datum":26.05,"type":"quantitative","scale":{"domain":[0.4,30.66],"nice":false,"zero":false}}}},
{"data":{"name":"adx_level"},"mark":{"type":"rule","color":"#d00000","strokeWidth":2},
 "encoding":{"y":{"field":"v","type":"quantitative","scale":{"domain":[0.4,30.66],"nice":false,"zero":false},
  "axis":{"orient":"right","values":[5,30.66],"tickCount":20,"labelExpr":"datum.value > 30 ? '31' : datum.label","tickSize":3,"labelPadding":2,"labelFontSize":9,"labelColor":"#000000","tickColor":"#000000","domain":false,"grid":false,"title":null,"labelFlush":true,"labelOverlap":false}}}},
{"data":{"name":"adx"},"mark":{"type":"line","clip":true},
 "encoding":{"x":{"field":"i","type":"quantitative","scale":{"domain":[0.0667,81.733],"nice":false,"zero":false},
  "axis":{"orient":"bottom","values":[0.0667,4,8,12,16,20,24,28,32,36,40,44,48,52,56,60,64,68,72,76],"tickCount":60,
   "labelExpr":"datum.value < 1 ? '6 Jan 2023' : '6 Jan ' + floor((1050 + 5 * datum.value) / 60) + ':' + ((1050 + 5 * datum.value) % 60 < 10 ? '0' : '') + ((1050 + 5 * datum.value) % 60)",
   "labelAlign":"left","labelBaseline":"top","labelPadding":1,"labelOffset":2,"tickSize":3,"tickColor":"#000000","labelColor":"#000000","labelFontSize":9,"domain":false,"grid":false,"title":null,"labelFlush":false,"labelOverlap":false,"labelBound":false}},
  "y":{"field":"v","type":"quantitative","scale":{"domain":[0.4,30.66],"nice":false,"zero":false}},
  "color":{"field":"s","type":"nominal","scale":{"domain":["mdi","pdi","adx"],"range":["#d01010","#cccc10","#ffffff"]},"legend":null},
  "strokeWidth":{"field":"s","type":"nominal","scale":{"domain":["mdi","pdi","adx"],"range":[1,1,2.5]},"legend":null}}},
{"data":{"name":"adx_level"},"mark":{"type":"rect","fill":"#e80000","clip":false},
 "encoding":{"x":{"datum":81.87,"type":"quantitative","scale":{"domain":[0.0667,81.733],"nice":false,"zero":false}},
  "x2":{"datum":84.47},
  "y":{"datum":33.6,"type":"quantitative","scale":{"domain":[0.4,30.66],"nice":false,"zero":false}},
  "y2":{"datum":26.4}}},
{"data":{"name":"adx_level"},"mark":{"type":"text","align":"center","baseline":"middle","fontSize":9,"color":"#ffffff","clip":false},
 "encoding":{"x":{"datum":83.17,"type":"quantitative","scale":{"domain":[0.0667,81.733],"nice":false,"zero":false}},
  "y":{"field":"v","type":"quantitative","scale":{"domain":[0.4,30.66],"nice":false,"zero":false}},
  "text":{"field":"label"}}}
]
}
]
}
